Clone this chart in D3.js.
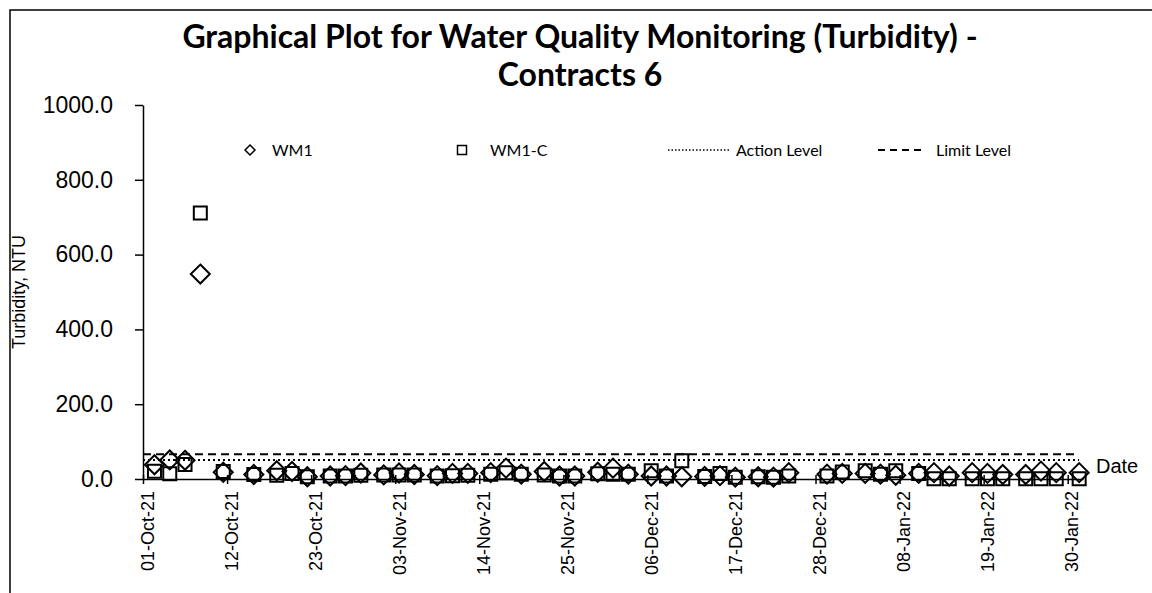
<!DOCTYPE html>
<html>
<head>
<meta charset="utf-8">
<script src="https://cdn.jsdelivr.net/npm/d3@7"></script>
<style>
  body { margin: 0; background: #fff; }
  svg { display: block; }
</style>
</head>
<body id="body">
<div id="chart"></div>
<script>
// sampling dates and turbidity readings (NTU)
var sampleDates = [
  "02-Oct-21", "04-Oct-21", "06-Oct-21", "08-Oct-21", "11-Oct-21", "15-Oct-21",
  "18-Oct-21", "20-Oct-21", "22-Oct-21", "25-Oct-21", "27-Oct-21", "29-Oct-21",
  "01-Nov-21", "03-Nov-21", "05-Nov-21", "08-Nov-21", "10-Nov-21", "12-Nov-21",
  "15-Nov-21", "17-Nov-21", "19-Nov-21", "22-Nov-21", "24-Nov-21", "26-Nov-21",
  "29-Nov-21", "01-Dec-21", "03-Dec-21", "06-Dec-21", "08-Dec-21", "10-Dec-21",
  "13-Dec-21", "15-Dec-21", "17-Dec-21", "20-Dec-21", "22-Dec-21", "24-Dec-21",
  "29-Dec-21", "31-Dec-21", "03-Jan-22", "05-Jan-22", "07-Jan-22", "10-Jan-22",
  "12-Jan-22", "14-Jan-22", "17-Jan-22", "19-Jan-22", "21-Jan-22", "24-Jan-22",
  "26-Jan-22", "28-Jan-22", "31-Jan-22"
];
var wm1 = [
  38, 51, 50, 548, 18, 12,
  22, 20, 6, 8, 9, 16,
  11, 16, 12, 9, 15, 15,
  17, 29, 13, 20, 8, 8,
  18, 29, 13, 8, 8, 6,
  7, 9, 5, 6, 5, 17,
  13, 15, 15, 13, 10, 15,
  17, 8, 17, 15, 12, 12,
  21, 17, 17
];
var wm1c = [
  21, 14, 39, 711, 20, 12,
  10, 15, 6, 8, 8, 10,
  11, 11, 11, 8, 9, 10,
  13, 17, 13, 11, 8, 8,
  14, 13, 13, 22, 8, 49,
  7, 15, 5, 6, 5, 8,
  8, 19, 22, 13, 22, 15,
  1, 1, 1, 1, 1, 1,
  1, 1, 1
];
var actionLevel = 51;
var limitLevel = 66;

var xTickLabels = [
  "01-Oct-21", "12-Oct-21", "23-Oct-21", "03-Nov-21", "14-Nov-21", "25-Nov-21",
  "06-Dec-21", "17-Dec-21", "28-Dec-21", "08-Jan-22", "19-Jan-22", "30-Jan-22"
];
var yTicks = [0, 200, 400, 600, 800, 1000];
var xStart = "01-Oct-21", xEnd = "01-Feb-22";

var legendItems = ["WM1", "WM1-C", "Action Level", "Limit Level"];

var width = 1152;
var height = 593;
var parseDate = d3.timeParse("%d-%b-%y");

var svg = d3.select("#chart")
  .append("svg")
  .attr("width", width)
  .attr("height", height)
  .style("font-family", "'Liberation Sans', Arial, sans-serif");

// chart area border (runs off the right/bottom of the picture)
svg.append("rect")
  .attr("x", 10).attr("y", 10)
  .attr("width", 1400).attr("height", 800)
  .attr("fill", "#fff")
  .attr("stroke", "#000")
  .attr("stroke-width", 1.5);

var x = d3.scaleTime()
  .domain([parseDate(xStart), parseDate(xEnd)])
  .range([143, 1083]);

var y = d3.scaleLinear()
  .domain([0, 1000])
  .range([479, 105]);

// points sit in the middle of their day slot (Excel "between tick marks")
function xMid(d) {
  return x(d3.timeHour.offset(d, 12));
}
var halfDay = xMid(parseDate(xStart)) - x(parseDate(xStart));

// title
var title = svg.append("text")
  .attr("text-anchor", "middle")
  .style("font-family", "Lato, 'Open Sans', sans-serif")
  .style("font-weight", "bold")
  .style("font-size", "32px");
title.append("tspan").attr("x", 580).attr("y", 48)
  .text("Graphical Plot for Water Quality Monitoring (Turbidity)  -");
title.append("tspan").attr("x", 580).attr("y", 86)
  .text("Contracts 6");

// y axis
var yAxis = svg.append("g")
  .attr("transform", "translate(143,0)")
  .call(d3.axisLeft(y).tickValues(yTicks).tickFormat(d3.format(".1f"))
    .tickSizeInner(8).tickSizeOuter(0).tickPadding(22));
yAxis.select(".domain").attr("stroke-width", 1.5);
yAxis.selectAll(".tick line").attr("stroke-width", 1.5);
yAxis.selectAll(".tick text")
  .style("font-family", "'Liberation Sans', Arial, sans-serif")
  .style("font-size", "23px")
  .attr("fill", "#000");

svg.append("text")
  .attr("transform", "translate(25,292) rotate(-90)")
  .attr("text-anchor", "middle")
  .style("font-size", "18px")
  .text("Turbidity, NTU");

// x axis
var xAxis = svg.append("g")
  .attr("transform", "translate(0," + y(0) + ")")
  .call(d3.axisBottom(x)
    .tickValues(xTickLabels.map(parseDate))
    .tickFormat(d3.timeFormat("%d-%b-%y"))
    .tickSizeOuter(0));
xAxis.select(".domain").attr("stroke-width", 1.5);
xAxis.selectAll(".tick line")
  .attr("y1", -4).attr("y2", 5)
  .attr("stroke-width", 1.5);
xAxis.selectAll(".tick text")
  .attr("transform", "rotate(-90)")
  .attr("text-anchor", "end")
  .attr("x", -12)
  .attr("y", halfDay)
  .attr("dy", "0.35em")
  .attr("fill", "#000")
  .style("font-family", "'Liberation Sans', Arial, sans-serif")
  .style("font-size", "18px");

svg.append("text")
  .attr("x", 1096).attr("y", 473)
  .style("font-size", "20px")
  .text("Date");

// action / limit lines
svg.append("line")
  .attr("x1", x.range()[0]).attr("x2", x.range()[1] - 4)
  .attr("y1", y(actionLevel)).attr("y2", y(actionLevel))
  .attr("stroke", "#000").attr("stroke-width", 2)
  .attr("stroke-dasharray", "2,3");
svg.append("line")
  .attr("x1", x.range()[0]).attr("x2", x.range()[1] - 4)
  .attr("y1", y(limitLevel)).attr("y2", y(limitLevel))
  .attr("stroke", "#000").attr("stroke-width", 2)
  .attr("stroke-dasharray", "8,5");

var dates = sampleDates.map(parseDate);
var diamond = "M0,-9.5L9.5,0L0,9.5L-9.5,0Z";
var square = "M-6.5,-6.5H6.5V6.5H-6.5Z";

svg.append("g").selectAll("path")
  .data(wm1)
  .enter()
  .append("path")
  .attr("d", diamond)
  .attr("transform", function (d, i) {
    return "translate(" + xMid(dates[i]) + "," + y(d) + ")";
  })
  .attr("fill", "none")
  .attr("stroke", "#000")
  .attr("stroke-width", 2);

svg.append("g").selectAll("path")
  .data(wm1c)
  .enter()
  .append("path")
  .attr("d", square)
  .attr("transform", function (d, i) {
    return "translate(" + xMid(dates[i]) + "," + y(d) + ")";
  })
  .attr("fill", "none")
  .attr("stroke", "#000")
  .attr("stroke-width", 2);

// legend
var legend = svg.append("g").style("font-family", "Lato, 'Open Sans', sans-serif")
  .style("font-size", "16px");
legend.append("path").attr("d", "M0,-5L5,0L0,5L-5,0Z")
  .attr("transform", "translate(250,150)")
  .attr("fill", "none").attr("stroke", "#000").attr("stroke-width", 1.5);
legend.append("text").attr("x", 272).attr("y", 156).text(legendItems[0]);
legend.append("path").attr("d", "M-4.5,-4.5H4.5V4.5H-4.5Z")
  .attr("transform", "translate(462,150)")
  .attr("fill", "none").attr("stroke", "#000").attr("stroke-width", 1.5);
legend.append("text").attr("x", 490).attr("y", 156).text(legendItems[1]);
legend.append("line").attr("x1", 668).attr("x2", 731).attr("y1", 150).attr("y2", 150)
  .attr("stroke", "#000").attr("stroke-width", 1.5).attr("stroke-dasharray", "1.5,2");
legend.append("text").attr("x", 736).attr("y", 156).text(legendItems[2]);
legend.append("line").attr("x1", 878).attr("x2", 926).attr("y1", 150).attr("y2", 150)
  .attr("stroke", "#000").attr("stroke-width", 2).attr("stroke-dasharray", "7,5");
legend.append("text").attr("x", 936).attr("y", 156).text(legendItems[3]);
</script>
</body>
</html>
